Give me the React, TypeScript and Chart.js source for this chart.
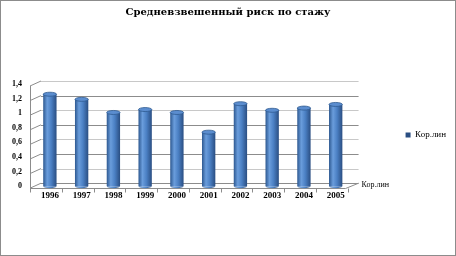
import React, { useEffect, useRef } from "react";
import { Chart, registerables } from "chart.js";

Chart.register(...registerables);

const titleText = "Средневзвешенный риск по стажу";
const seriesName = "Кор.лин";
const categories = ["1996", "1997", "1998", "1999", "2000", "2001", "2002", "2003", "2004", "2005"];
const values = [1.26, 1.19, 1.01, 1.05, 1.01, 0.74, 1.13, 1.04, 1.07, 1.12];
const yMin = 0;
const yMax = 1.4;
const yStep = 0.2;

const SERIF = "'Liberation Serif', 'Times New Roman', serif";
const BAR_PCT = 0.42;
const BACK_DX = 7;
const BACK_DY = -3;
const FRONT_DX = -4;
const FRONT_DY = 2;

function cylGradient(ctx: CanvasRenderingContext2D, x: number, w: number) {
  const g = ctx.createLinearGradient(x - w / 2, 0, x + w / 2, 0);
  g.addColorStop(0, "#2d5890");
  g.addColorStop(0.3, "#6a9ddc");
  g.addColorStop(0.6, "#4b80c4");
  g.addColorStop(1, "#2a4e82");
  return g;
}

const depthPlugin = {
  id: "depth3d",
  beforeDatasetsDraw(chart: any) {
    const { ctx, chartArea } = chart;
    const ys = chart.scales.y;
    ctx.save();
    ys.ticks.forEach((t: any, i: number) => {
      const y = ys.getPixelForValue(t.value);
      const by = Math.round(y + BACK_DY) + 0.5;
      ctx.strokeStyle = i % 2 === 1 ? "#c8c8c8" : "#8c8c8c";
      ctx.lineWidth = 1;
      ctx.beginPath();
      ctx.moveTo(chartArea.left + BACK_DX, by);
      ctx.lineTo(chartArea.right + BACK_DX, by);
      ctx.stroke();
      ctx.strokeStyle = "#8c8c8c";
      ctx.beginPath();
      ctx.moveTo(chartArea.left + FRONT_DX, y + FRONT_DY);
      ctx.lineTo(chartArea.left + BACK_DX, y + BACK_DY);
      ctx.stroke();
    });
    const y0 = ys.getPixelForValue(yMin) + FRONT_DY;
    const y1 = ys.getPixelForValue(yMax) + FRONT_DY;
    ctx.strokeStyle = "#8c8c8c";
    ctx.beginPath();
    ctx.moveTo(Math.round(chartArea.left + FRONT_DX) + 0.5, y1);
    ctx.lineTo(Math.round(chartArea.left + FRONT_DX) + 0.5, y0 + 1);
    ctx.stroke();
    const fy = Math.round(y0) + 0.5;
    ctx.beginPath();
    ctx.moveTo(chartArea.left + FRONT_DX, fy);
    ctx.lineTo(chartArea.right + FRONT_DX - 2, fy);
    ctx.lineTo(chartArea.right + BACK_DX, ys.getPixelForValue(yMin) + BACK_DY);
    ctx.stroke();
    const xs = chart.scales.x;
    for (let i = 0; i <= categories.length; i++) {
      const xb =
        i === 0
          ? chartArea.left
          : i === categories.length
          ? chartArea.right
          : (xs.getPixelForValue(i - 1) + xs.getPixelForValue(i)) / 2;
      const xx = Math.round(xb + FRONT_DX) + 0.5;
      ctx.beginPath();
      ctx.moveTo(xx, fy);
      ctx.lineTo(xx, fy + 4);
      ctx.stroke();
    }
    ctx.restore();
  },
  afterDatasetsDraw(chart: any) {
    const { ctx } = chart;
    const meta = chart.getDatasetMeta(0);
    ctx.save();
    meta.data.forEach((el: any) => {
      const { x, y, width, base } = el.getProps(["x", "y", "width", "base"], true);
      ctx.fillStyle = cylGradient(ctx, x, width);
      ctx.beginPath();
      ctx.ellipse(x, base, width / 2, 2, 0, 0, Math.PI);
      ctx.fill();
      ctx.fillStyle = "#5b8dcf";
      ctx.strokeStyle = "#2f5a90";
      ctx.lineWidth = 0.8;
      ctx.beginPath();
      ctx.ellipse(x, y, width / 2, 2, 0, 0, Math.PI * 2);
      ctx.fill();
      ctx.stroke();
    });
    ctx.restore();
  },
  afterDraw(chart: any) {
    const { ctx, chartArea } = chart;
    const ys = chart.scales.y;
    ctx.save();
    ctx.font = `8px ${SERIF}`;
    ctx.fillStyle = "#000";
    ctx.textBaseline = "middle";
    ctx.fillText(seriesName, chartArea.right + BACK_DX + 3, ys.getPixelForValue(yMin) + BACK_DY + 2);
    ctx.strokeStyle = "#8c8c8c";
    ctx.lineWidth = 1;
    ctx.strokeRect(0.5, 0.5, chart.width - 1, chart.height - 1);
    ctx.restore();
  },
};

export default function App() {
  const ref = useRef<HTMLCanvasElement | null>(null);
  useEffect(() => {
    document.body.style.margin = "0";
    const canvas = ref.current;
    if (!canvas) return;
    const chart = new Chart(canvas, {
      type: "bar",
      data: {
        labels: categories,
        datasets: [
          {
            label: seriesName,
            data: values,
            backgroundColor: (c: any) => {
              const ch = c.chart;
              const xs = ch.scales && ch.scales.x;
              if (!xs || !ch.chartArea || c.dataIndex === undefined) return "#4a7ec0";
              const x = xs.getPixelForValue(c.dataIndex);
              const w = (xs.width / categories.length) * BAR_PCT;
              return cylGradient(ch.ctx, x, w);
            },
            borderWidth: 0,
            barPercentage: BAR_PCT,
            categoryPercentage: 1,
          },
        ],
      },
      options: {
        responsive: false,
        animation: false,
        devicePixelRatio: 1,
        layout: { padding: { left: 0, right: 0, top: 0, bottom: 51 } },
        plugins: {
          title: {
            display: true,
            text: titleText,
            color: "#000",
            font: { family: "'DejaVu Serif', serif", size: 10, weight: "bold" },
            padding: { top: 6, bottom: 66 },
          },
          legend: {
            display: true,
            position: "right",
            fullSize: false,
            labels: {
              boxWidth: 5,
              boxHeight: 5,
              padding: 15,
              color: "#000",
              font: { family: SERIF, size: 9 },
            },
          },
          tooltip: { enabled: false },
        },
        scales: {
          x: {
            grid: { display: false, drawTicks: false },
            border: { display: false },
            ticks: {
              color: "#000",
              padding: 4,
              font: { family: SERIF, size: 9, weight: "bold" },
              maxRotation: 0,
              autoSkip: false,
            },
          },
          y: {
            min: yMin,
            max: yMax,
            grid: { display: false, drawTicks: false },
            border: { display: false },
            ticks: {
              stepSize: yStep,
              autoSkip: false,
              color: "#000",
              padding: 12,
              font: { family: SERIF, size: 8, weight: "bold" },
              callback: (v: any) => String(Math.round(Number(v) * 10) / 10).replace(".", ","),
            },
          },
          yR: {
            position: "right",
            display: true,
            grid: { display: false, drawTicks: false },
            border: { display: false },
            ticks: { display: false },
            afterFit: (s: any) => {
              s.width = 39;
            },
          },
        },
      },
      plugins: [depthPlugin],
    });
    return () => chart.destroy();
  }, []);
  return <canvas ref={ref} width={456} height={256} style={{ display: "block" }} />;
}
